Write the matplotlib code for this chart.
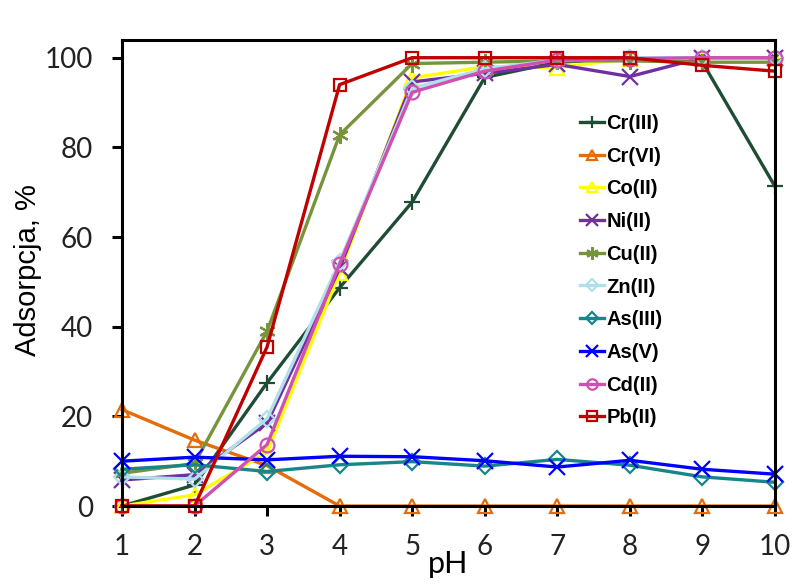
import numpy as np
import matplotlib
matplotlib.use('Agg')
import matplotlib.pyplot as plt

# pH values
ph = [1, 2, 3, 4, 5, 6, 7, 8, 9, 10]

# adsorption, %
cr3 = [0, 4.7, 27.5, 48.7, 67.8, 95.6, 99, 99.8, 99, 71.3]
cr6 = [21.5, 14.7, 9, 0, 0, 0, 0, 0, 0, 0]
co2 = [0, 2.5, 12, 52, 95.5, 98, 97.8, 99.8, 100, 100]
ni2 = [5.8, 7, 18.5, 53, 94.6, 96.5, 98.5, 95.8, 100, 100]
cu2 = [7.3, 9.5, 39, 82.8, 98.7, 99, 99.3, 99.3, 99, 99]
zn2 = [6.5, 6, 19.5, 54.5, 93.2, 97.5, 99.5, 100, 100, 100]
as3 = [8.2, 9.2, 7.7, 9.2, 9.9, 8.9, 10.4, 9.1, 6.5, 5.3]
as5 = [10, 10.9, 10.3, 11.1, 11, 10.1, 8.7, 10.2, 8.2, 7.1]
cd2 = [0, 0, 13.7, 54, 92.3, 97, 99.5, 99.8, 100, 100]
pb2 = [0, 0, 35.5, 94, 100, 100, 100, 100, 98.3, 97]

names = ['Cr(III)', 'Cr(VI)', 'Co(II)', 'Ni(II)', 'Cu(II)',
         'Zn(II)', 'As(III)', 'As(V)', 'Cd(II)', 'Pb(II)']
series = [cr3, cr6, co2, ni2, cu2, zn2, as3, as5, cd2, pb2]
colors = ['#1e4d33', '#e46c0a', '#ffff00', '#7030a0', '#77933c',
          '#b0e0ea', '#17868a', '#0000ff', '#d14fb3', '#c00000']
markers = ['+', '^', '^', 'x', (6, 2, 0), 'D', 'D', 'x', 'o', 's']
sizes = [12, 10, 10, 12, 12, 8, 8, 12, 10, 9]
hollow = [False, True, True, False, False, True, True, False, True, True]

fig = plt.figure(figsize=(7.92, 5.85), dpi=100)
ax = fig.add_axes([0.154, 0.135, 0.8245, 0.797])

for y, lab, c, m, s, h in zip(series, names, colors, markers, sizes, hollow):
    ax.plot(ph, y, color=c, lw=2.4, marker=m, ms=s, mew=1.6,
            mfc='none' if h else c, mec=c, label=lab, clip_on=False)

ax.set_xlim(1, 10)
ax.set_ylim(0, 104)
ax.set_xticks(ph)
ax.set_yticks([0, 20, 40, 60, 80, 100])
for sp in ax.spines.values():
    sp.set_linewidth(2.2)
ax.tick_params(axis='both', direction='out', length=7, width=2.2,
               labelsize=20, labelcolor='#222222')
ax.tick_params(axis='y', pad=14)
ax.tick_params(axis='x', pad=13)
for t in ax.get_xticklabels() + ax.get_yticklabels():
    t.set_family('Lato')

ax.set_xlabel('pH', fontsize=22, family='Lato', labelpad=-7)
ax.set_ylabel('Adsorpcja, %', fontsize=21, family='Liberation Sans')
ax.yaxis.set_label_coords(-0.1225, 0.506)

leg = ax.legend(loc='upper left', bbox_to_anchor=(570 / 792, 1 - 104 / 585),
                bbox_transform=fig.transFigure, frameon=False,
                prop={'family': 'Liberation Sans', 'weight': 'bold', 'size': 14.5},
                handlelength=1.2, handletextpad=0.1, labelspacing=0.68,
                borderpad=0, markerscale=0.75)

fig.savefig('out.png', dpi=100)
